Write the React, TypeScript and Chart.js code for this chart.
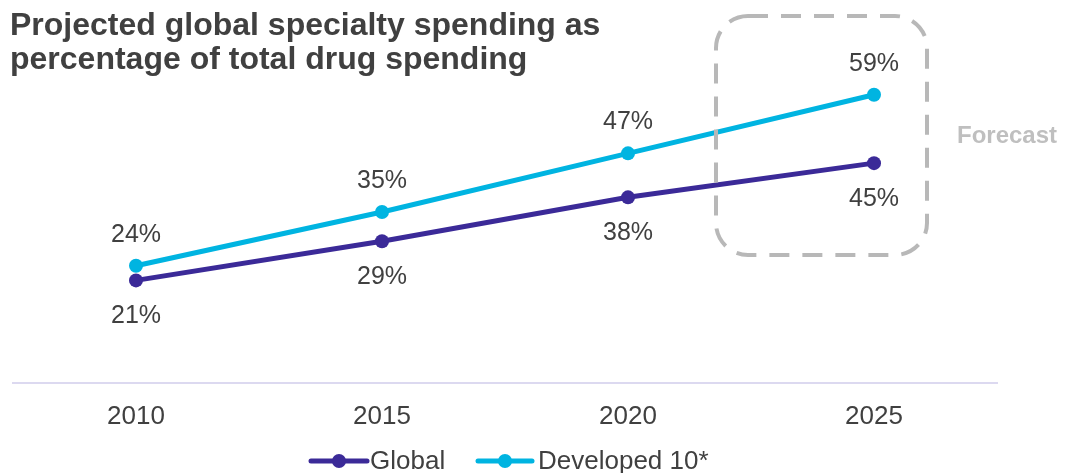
import React, { useEffect, useRef } from "react";
import { Chart, registerables } from "chart.js";

Chart.register(...registerables);

const years = ["2010", "2015", "2020", "2025"];
const globalValues = [21, 29, 38, 45];
const developedValues = [24, 35, 47, 59];
const seriesNames = ["Global", "Developed 10*"];
const titleLines = ["Projected global specialty spending as", "percentage of total drug spending"];
const forecastLabel = "Forecast";

const PURPLE = "#3B2A98";
const CYAN = "#00B4E1";
const TEXT = "#404040";
const FONT = "'Liberation Sans', Arial, sans-serif";

const overlayPlugin = {
  id: "overlay",
  afterDatasetsDraw(chart: any) {
    const ctx = chart.ctx;
    ctx.save();
    // title
    ctx.fillStyle = TEXT;
    ctx.font = `bold 32px ${FONT}`;
    ctx.textAlign = "left";
    ctx.textBaseline = "alphabetic";
    ctx.fillText(titleLines[0], 10, 35);
    ctx.fillText(titleLines[1], 10, 69);

    // data labels
    ctx.font = `25px ${FONT}`;
    ctx.textAlign = "center";
    ctx.textBaseline = "middle";
    ctx.fillStyle = TEXT;
    chart.data.datasets.forEach((ds: any, i: number) => {
      const meta = chart.getDatasetMeta(i);
      meta.data.forEach((pt: any, j: number) => {
        const v = ds.data[j];
        const y = i === 1 ? pt.y - 31 : pt.y + 36;
        ctx.fillText(v + "%", pt.x, y);
      });
    });

    // forecast box
    const xs = chart.scales.x;
    const x2025 = xs.getPixelForValue(3);
    const left = x2025 - 158;
    const right = x2025 + 53;
    const top = 16;
    const bottom = 255;
    const r = 32;
    ctx.strokeStyle = "#B8B8B8";
    ctx.lineWidth = 4;
    ctx.setLineDash([20, 13]);
    ctx.beginPath();
    ctx.moveTo(left + r, top);
    ctx.lineTo(right - r, top);
    ctx.arcTo(right, top, right, top + r, r);
    ctx.lineTo(right, bottom - r);
    ctx.arcTo(right, bottom, right - r, bottom, r);
    ctx.lineTo(left + r, bottom);
    ctx.arcTo(left, bottom, left, bottom - r, r);
    ctx.lineTo(left, top + r);
    ctx.arcTo(left, top, left + r, top, r);
    ctx.closePath();
    ctx.stroke();
    ctx.setLineDash([]);

    ctx.fillStyle = "#BFBFBF";
    ctx.font = `bold 24px ${FONT}`;
    ctx.textAlign = "left";
    ctx.fillText(forecastLabel, 957, 136);

    // legend
    const ly = 461;
    const items = [
      { x: 311, len: 56, text: 370, color: PURPLE, label: seriesNames[0] },
      { x: 478, len: 54, text: 538, color: CYAN, label: seriesNames[1] },
    ];
    ctx.font = `26px ${FONT}`;
    items.forEach((it) => {
      ctx.strokeStyle = it.color;
      ctx.lineWidth = 5;
      ctx.lineCap = "round";
      ctx.beginPath();
      ctx.moveTo(it.x, ly);
      ctx.lineTo(it.x + it.len, ly);
      ctx.stroke();
      ctx.fillStyle = it.color;
      ctx.beginPath();
      ctx.arc(it.x + it.len / 2, ly, 7, 0, Math.PI * 2);
      ctx.fill();
      ctx.fillStyle = TEXT;
      ctx.fillText(it.label, it.text, ly + 1);
    });
    ctx.restore();
  },
};

export default function App() {
  const ref = useRef<HTMLCanvasElement>(null);
  useEffect(() => {
    if (!ref.current) return;
    const chart = new Chart(ref.current, {
      type: "line",
      data: {
        labels: years,
        datasets: [
          {
            label: seriesNames[0],
            data: globalValues,
            borderColor: PURPLE,
            backgroundColor: PURPLE,
            borderWidth: 5,
            pointRadius: 7,
            pointHoverRadius: 7,
            pointBorderWidth: 0,
          },
          {
            label: seriesNames[1],
            data: developedValues,
            borderColor: CYAN,
            backgroundColor: CYAN,
            borderWidth: 5,
            pointRadius: 7,
            pointHoverRadius: 7,
            pointBorderWidth: 0,
          },
        ],
      },
      options: {
        animation: false,
        responsive: false,
        layout: { padding: { left: 13, right: 70, top: 41, bottom: 0 } },
        plugins: { legend: { display: false }, title: { display: false }, tooltip: { enabled: false } },
        scales: {
          x: {
            offset: true,
            grid: { display: false, drawTicks: false },
            border: { display: true, color: "#DCD9F0", width: 2 },
            ticks: { color: TEXT, font: { family: FONT, size: 26 }, padding: 18 },
            afterFit: (scale: any) => {
              scale.height = 90;
            },
          },
          y: { display: false, min: 0, max: 70 },
        },
      },
      plugins: [overlayPlugin],
    });
    return () => chart.destroy();
  }, []);
  return (
    <div style={{ position: "fixed", left: 0, top: 0, width: 1067, height: 473, background: "#fff" }}>
      <canvas ref={ref} width={1067} height={473} />
    </div>
  );
}
